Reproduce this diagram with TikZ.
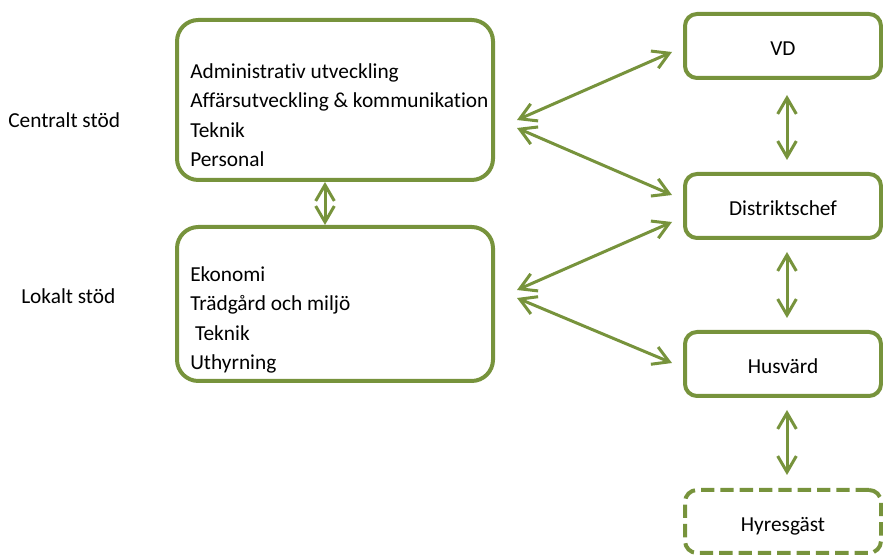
\documentclass[tikz,border=0pt]{standalone}
\usepackage{fontspec}
\setmainfont{Carlito}[Ligatures=NoCommon]
\usepackage{xcolor}
\usepackage{tikz}
\usetikzlibrary{arrows.meta,calc}

\definecolor{boxgreen}{HTML}{77933C}

\begin{document}
\begin{tikzpicture}[x=0.75pt, y=-0.75pt, font=\fontsize{16}{22.2}\selectfont,
    bigbox/.style={rectangle, draw=boxgreen, line width=3pt, rounded corners=16pt, minimum width=237pt},
    rolebox/.style={rectangle, draw=boxgreen, line width=3pt, rounded corners=9pt, minimum width=147pt, minimum height=48pt, text height=15pt, text depth=0pt},
    guestbox/.style={rolebox, dash pattern=on 10pt off 4.5pt},
    boxtext/.style={align=left, inner sep=0pt, anchor=north west},
    sidetext/.style={inner sep=0pt, anchor=base west},
    biarrow/.style={<->, >={Straight Barb[length=12pt,width=14pt]}, draw=boxgreen, line width=2.25pt}]
    \useasboundingbox (0,0) rectangle (883,555);

    % support units
    \node [bigbox, minimum height=120pt] (central) at (335,100) {};
    \node [bigbox, minimum height=115.5pt] (local) at (335,304) {};
    \node [boxtext] (centraltext) at (190,63) {Administrativ utveckling\\Affärsutveckling \& kommunikation\\Teknik\\Personal};
    \node [boxtext] (localtext) at (190,266) {Ekonomi\\Trädgård och miljö\\~Teknik\\Uthyrning};
    \node [sidetext] (centrallabel) at (8,128) {Centralt stöd};
    \node [sidetext] (locallabel) at (21,304) {Lokalt stöd};

    % line organisation
    \node [rolebox] (vd) at (783,46) {VD};
    \node [rolebox] (distchef) at (783,206) {Distriktschef};
    \node [rolebox] (husvard) at (783,364) {Husvärd};
    \node [guestbox, minimum height=47.25pt] (hyresgast) at (783,521.5) {Hyresgäst};

    \draw [biarrow] ($(central.east)+(22,20)$) -- ($(vd.west)+(-11,6)$);
    \draw [biarrow] ($(central.east)+(22,28)$) -- ($(distchef.west)+(-11,-11)$);
    \draw [biarrow] ($(local.east)+(22,-14)$) -- ($(distchef.west)+(-11,16)$);
    \draw [biarrow] ($(local.east)+(22,-6)$) -- ($(husvard.west)+(-11,-1)$);
    \draw [biarrow] ($(central.south)+(-10,0)$) -- ($(local.north)+(-10,0)$);
    \draw [biarrow] ($(vd.south)+(4,15)$) -- ($(distchef.north)+(4,-12)$);
    \draw [biarrow] ($(distchef.south)+(4,12)$) -- ($(husvard.north)+(4,-12)$);
    \draw [biarrow] ($(husvard.south)+(4,12)$) -- ($(hyresgast.north)+(4,-13)$);
\end{tikzpicture}
\end{document}
